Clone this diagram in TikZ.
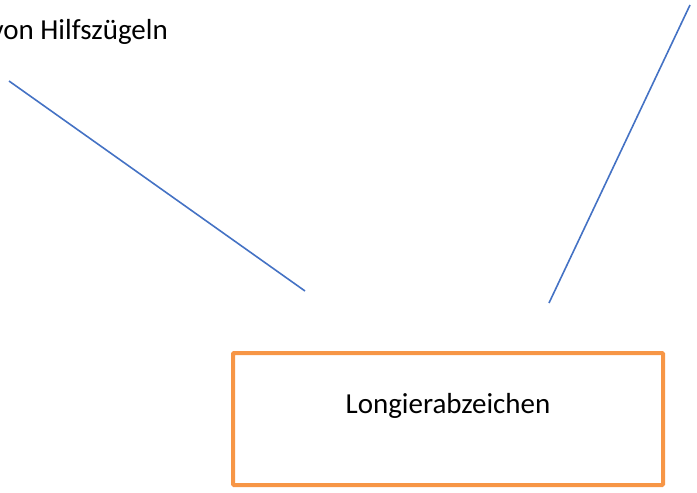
\documentclass[tikz,border=0pt]{standalone}
\usepackage{fontspec}
\setmainfont{Carlito}
\usepackage{xcolor}
\usepackage{tikz}
\usetikzlibrary{positioning}

\definecolor{strich}{RGB}{68,114,196}
\definecolor{rahmen}{RGB}{247,150,70}

\begin{document}
\begin{tikzpicture}[x=1pt,y=-1pt,
  linie/.style={draw=strich, line width=1.6pt},
  kasten/.style={draw=rahmen, line width=4pt, rounded corners=1pt,
    minimum width=430pt, minimum height=132pt, inner sep=0pt},
  beschrift/.style={font=\fontsize{29}{35}\selectfont, inner sep=0pt}]
  \useasboundingbox (0,0) rectangle (697,493);

  \node[kasten] (abzeichen) at (448,419) {};
  \node[beschrift, anchor=base] (name) at (448,413) {Longierabzeichen};
  \node[beschrift, anchor=base east] (hilf) at (168,39) {von Hilfszügeln};

  \coordinate (a1) at (9,81);
  \coordinate (a2) at (305,291);
  \coordinate (b1) at (549,303);
  \coordinate (b2) at (690,5);
  \draw[linie] (a1) -- (a2);
  \draw[linie] (b1) -- (b2);
\end{tikzpicture}
\end{document}
